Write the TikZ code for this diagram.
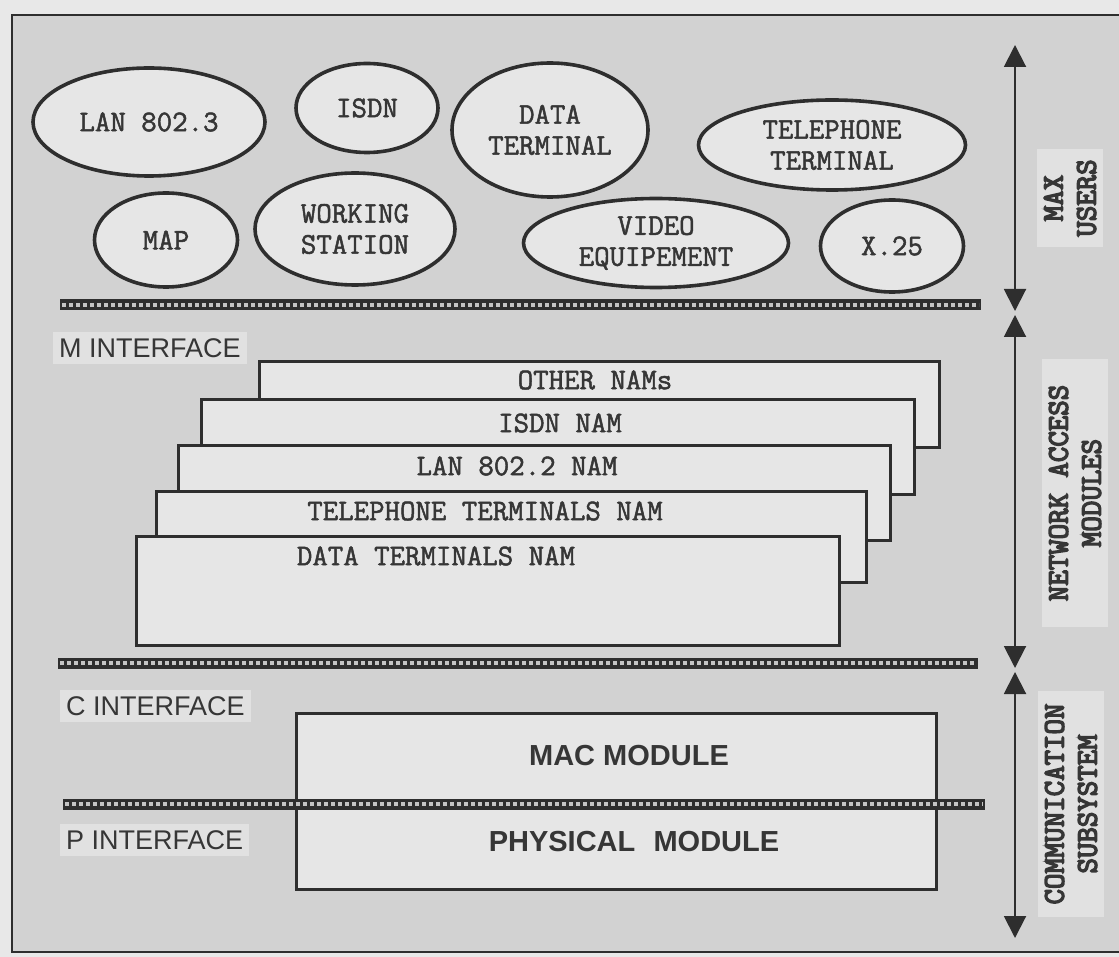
\documentclass[tikz,border=0pt]{standalone}
\usepackage{fontspec}
\setmainfont{Liberation Sans}
\newfontfamily\courfont{Latin Modern Mono}
\newcommand\strk[2]{\special{pdf:literal direct 2 Tr #1 w}#2\special{pdf:literal direct 0 Tr}}
\usetikzlibrary{shapes.geometric,arrows.meta}
\definecolor{paper}{HTML}{E8E8E8}
\definecolor{panel}{HTML}{D2D2D2}
\definecolor{boxfill}{HTML}{E6E6E6}
\definecolor{ink}{HTML}{2E2E2E}
\definecolor{txt}{HTML}{363636}
\definecolor{patch}{HTML}{E1E1E1}
\definecolor{hatchlight}{HTML}{C4C4C4}
\tikzset{
 userell/.style={ellipse, draw=ink, line width=3.6pt, fill=boxfill, inner sep=0pt, text=txt, align=center, font=\courfont\fontsize{30}{31}\selectfont},
 nambox/.style={rectangle, draw=ink, line width=2.6pt, fill=boxfill, anchor=north west, inner sep=0pt},
 namtext/.style={text=txt, font=\courfont\fontsize{30}{31}\selectfont, inner sep=0pt},
 modbox/.style={rectangle, draw=ink, line width=3pt, fill=boxfill, anchor=north west, inner sep=0pt},
 modtext/.style={text=txt, font=\bfseries\fontsize{29}{32}\selectfont, inner sep=0pt},
 iflabel/.style={fill=patch, text=txt, anchor=west, font=\fontsize{27}{30}\selectfont, inner xsep=6pt, inner ysep=6pt},
 sidelabel/.style={fill=patch, text=txt, rotate=90, align=center, font=\courfont\fontsize{30}{33}\selectfont, inner ysep=7pt},
 hatchdark/.style={line width=11pt, draw=ink},
 hatchlite/.style={line width=4pt, draw=hatchlight, dash pattern=on 4pt off 3pt},
 span/.style={draw=ink, line width=2pt, {Triangle[width=22pt,length=22pt]}-{Triangle[width=22pt,length=22pt]}},
}
\begin{document}
\begin{tikzpicture}[x=1pt,y=-1pt]
\useasboundingbox (0,0) rectangle (1119,957);
\fill[paper] (0,0) rectangle (1119,957);
\fill[panel] (12,15) rectangle (1119,952);
\draw[ink, line width=2.2pt] (1119,15) -- (12,15) -- (12,952) -- (1119,952);

% users
\node[userell, minimum width=232, minimum height=108] (lan) at (149,122) {\strk{0.5}{LAN 802.3}};
\node[userell, minimum width=142, minimum height=89] (isdn) at (367,108) {\strk{0.5}{ISDN}};
\node[userell, minimum width=196, minimum height=134] (dterm) at (550,130) {\strk{0.5}{DATA\\TERMINAL}};
\node[userell, minimum width=267, minimum height=90] (tterm) at (832,145) {\strk{0.5}{TELEPHONE\\TERMINAL}};
\node[userell, minimum width=143, minimum height=94] (map) at (166,240) {\strk{0.5}{MAP}};
\node[userell, minimum width=200, minimum height=112] (ws) at (355,229) {\strk{0.5}{WORKING\\STATION}};
\node[userell, minimum width=265, minimum height=89] (video) at (656,243) {\strk{0.5}{VIDEO\\EQUIPEMENT}};
\node[userell, minimum width=143, minimum height=92] (x25) at (892,246) {\strk{0.5}{X.25}};

% M interface bar
\draw[hatchdark] (60,305) -- (981,305);
\draw[hatchlite] (62,305) -- (979,305);
\node[iflabel] (mif) at (53,348) {M INTERFACE};

% network access modules (back to front)
\node[nambox, minimum width=680, minimum height=86] (nam5) at (258,360) {};
\node[namtext] (nam5t) at (595,380) {\strk{0.5}{OTHER NAMs}};
\node[nambox, minimum width=713, minimum height=95] (nam4) at (200,398) {};
\node[namtext] (nam4t) at (560,423) {\strk{0.5}{ISDN NAM}};
\node[nambox, minimum width=712, minimum height=95] (nam3) at (177,444) {};
\node[namtext] (nam3t) at (517,466) {\strk{0.5}{LAN 802.2 NAM}};
\node[nambox, minimum width=710, minimum height=91] (nam2) at (155,490) {};
\node[namtext] (nam2t) at (485,511) {\strk{0.5}{TELEPHONE TERMINALS NAM}};
\node[nambox, minimum width=703, minimum height=109] (nam1) at (135,535) {};
\node[namtext] (nam1t) at (436,556) {\strk{0.5}{DATA TERMINALS NAM}};

% C interface bar
\draw[hatchdark] (58,663) -- (978,663);
\draw[hatchlite] (60,663) -- (976,663);
\node[iflabel] (cif) at (60,706) {C INTERFACE};

% communication subsystem
\node[modbox, minimum width=640, minimum height=92] (mac) at (295,712) {};
\node[modbox, minimum width=640, minimum height=84] (phy) at (295,804) {};
\node[modtext] (mact) at (629,756) {MAC MODULE};
\node[modtext] (phyt) at (634,842) {PHYSICAL\hspace{0.35em} MODULE};
\draw[hatchdark] (63,804) -- (985,804);
\draw[hatchlite] (65,804) -- (983,804);
\node[iflabel] (pif) at (60,840) {P INTERFACE};

% side spans
\coordinate (u1) at (1015,45);
\coordinate (u2) at (1015,311);
\coordinate (n1) at (1015,315);
\coordinate (n2) at (1015,668);
\coordinate (c1) at (1015,672);
\coordinate (c2) at (1015,938);
\draw[span] (u1) -- (u2);
\draw[span] (n1) -- (n2);
\draw[span] (c1) -- (c2);

\node[sidelabel, inner xsep=10pt] (maxu) at (1070,198) {\strk{1.4}{MAX\\USERS}};
\node[sidelabel, inner xsep=26pt] (nama) at (1075,493) {\strk{1.4}{NETWORK ACCESS\\MODULES}};
\node[sidelabel, inner xsep=13pt] (comm) at (1071,804) {\strk{1.4}{COMMUNICATION\\SUBSYSTEM}};
\end{tikzpicture}
\end{document}
